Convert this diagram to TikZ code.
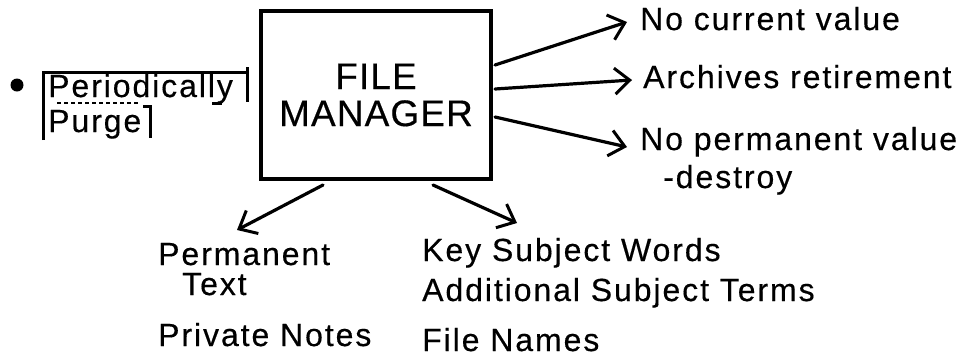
\documentclass[tikz,border=0pt]{standalone}
\usepackage{fontspec}
\setmainfont{Liberation Sans}[LetterSpace=6,FakeBold=0.4]
\usetikzlibrary{arrows.meta}

\begin{document}
\begin{tikzpicture}[x=1pt,y=-1pt,
  lbl/.style={anchor=base west, inner sep=0pt, font=\fontsize{32}{36}\selectfont},
  conn/.style={line width=3.2pt, line cap=round,
    -{Straight Barb[length=15pt,width=26pt,line width=3pt]}},
  frame/.style={line width=3pt},
]
\useasboundingbox (0,0) rectangle (968,357);

% central box
\node[draw, line width=4pt, minimum width=230pt, minimum height=168pt,
      inner sep=0pt, align=center, font=\fontsize{37}{37}\selectfont\addfontfeature{LetterSpace=3}]
      (fm) at (376,95) {FILE\\MANAGER};

% left annotation
\fill (17,85) circle (6.5pt);
\node[lbl] (per) at (48,97) {Periodically};
\node[lbl] (pur) at (48,132) {Purge};
\draw[frame] (43,140) -- (43,72) -- (247,72);
\draw[frame] (247,67) -- (247,102);
\draw[line width=1.2pt, dash pattern=on 4pt off 3pt] (57,103) -- (140,103);
\draw[frame] (212,103) -- (222,103);
\draw[frame] (143,106) -- (150,106) -- (150,138);

% outcomes on the right
\node[lbl] (t1) at (640,30) {No current value};
\node[lbl] (t2) at (643,88) {Archives retirement};
\node[lbl] (t3) at (640,150) {No permanent value};
\node[lbl] (t3b) at (663,188) {-destroy};

\draw[conn] ([xshift=2pt,yshift=30pt]fm.east) -- ([xshift=-13pt,yshift=8pt]t1.base west);
\draw[conn] ([xshift=2pt,yshift=6pt]fm.east) -- ([xshift=-11pt,yshift=8pt]t2.base west);
\draw[conn] ([xshift=2pt,yshift=-22pt]fm.east) -- ([xshift=-13pt,yshift=3pt]t3.base west);

% contents below
\node[lbl] (perm) at (158,265) {Permanent};
\node[lbl] (txt) at (182,295) {Text};
\node[lbl] (priv) at (158,346) {Private Notes};
\node[lbl] (key) at (422,261) {Key Subject Words};
\node[lbl] (addl) at (422,301) {Additional Subject Terms};
\node[lbl] (fnm) at (422,351) {File Names};

\draw[conn] ([xshift=-53pt,yshift=-4pt]fm.south) -- ([xshift=79pt,yshift=35pt]perm.base west);
\draw[conn] ([xshift=57pt,yshift=-4pt]fm.south) -- ([xshift=95pt,yshift=38pt]key.base west);
\end{tikzpicture}
\end{document}
